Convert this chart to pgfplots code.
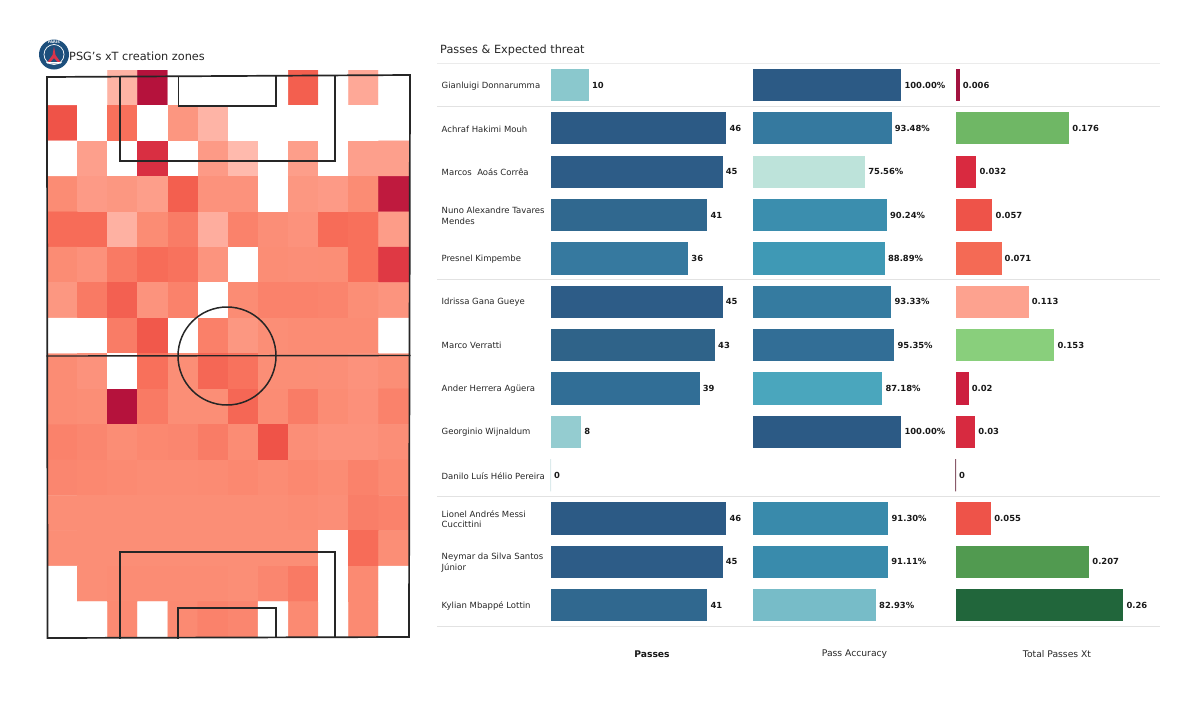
\documentclass[border=0pt]{standalone}
\usepackage{fontspec}
\setmainfont{DejaVu Sans}
\usepackage{pgfplots}
\pgfplotsset{compat=1.18}
\definecolor{inkc}{HTML}{262626}
\definecolor{sepc}{HTML}{E2E2E2}
\definecolor{logoc}{HTML}{1D4F7C}
\definecolor{towerc}{HTML}{D8344A}

% bar colours, one per row, for each column
\definecolor{p0}{HTML}{8AC8CD}\definecolor{p1}{HTML}{2C5A85}\definecolor{p2}{HTML}{2D5C87}
\definecolor{p3}{HTML}{30688F}\definecolor{p4}{HTML}{36799F}\definecolor{p5}{HTML}{2D5C87}
\definecolor{p6}{HTML}{2F6389}\definecolor{p7}{HTML}{316E96}\definecolor{p8}{HTML}{94CCD0}
\definecolor{p9}{HTML}{DCEBEC}\definecolor{p10}{HTML}{2C5A85}\definecolor{p11}{HTML}{2D5C87}
\definecolor{p12}{HTML}{30688F}
\definecolor{a0}{HTML}{2C5A85}\definecolor{a1}{HTML}{35799F}\definecolor{a2}{HTML}{BDE3DA}
\definecolor{a3}{HTML}{3B8EAE}\definecolor{a4}{HTML}{3F99B5}\definecolor{a5}{HTML}{357BA0}
\definecolor{a6}{HTML}{326E96}\definecolor{a7}{HTML}{4AA6BD}\definecolor{a8}{HTML}{2C5A85}
\definecolor{a10}{HTML}{398AAB}\definecolor{a11}{HTML}{398BAC}\definecolor{a12}{HTML}{77BCC8}
\definecolor{x0}{HTML}{A2123F}\definecolor{x1}{HTML}{6FB765}\definecolor{x2}{HTML}{D92A40}
\definecolor{x3}{HTML}{EE5349}\definecolor{x4}{HTML}{F46A55}\definecolor{x5}{HTML}{FDA28F}
\definecolor{x6}{HTML}{89CF7C}\definecolor{x7}{HTML}{CD1F3F}\definecolor{x8}{HTML}{D72A40}
\definecolor{x9}{HTML}{8A5A6A}\definecolor{x10}{HTML}{EE5349}\definecolor{x11}{HTML}{519A50}
\definecolor{x12}{HTML}{21663B}

% one bar: colour, row, value, printed label
\newcommand{\rowbar}[4]{\addplot[fill=#1,draw=none] coordinates {(#3,#2) [#4]};}
\newcommand{\rowbarz}[4]{\addplot[fill=#1,draw=#1,line width=0.7pt] coordinates {(#3,#2) [#4]};}
% one row name, in page pixels
\newcommand{\rowname}[2]{\node[anchor=west,align=left,inner sep=0pt,text=inkc,
  font=\fontsize{8.5}{10.7}\selectfont] at (axis cs:441.5,{85.7+43.35*#1}) {#2};}

\pgfplotsset{
  barcol/.style={
    scale only axis, hide axis, clip=false,
    height=563.6pt, ymin=-0.5, ymax=12.5, y dir=reverse, xmin=0,
    xbar, bar shift=0pt, bar width=32.3pt,
    point meta=explicit symbolic,
    nodes near coords,
    nodes near coords style={anchor=west, inner xsep=3pt, inner ysep=0pt,
      text=black!90, font=\fontsize{8.4}{10}\selectfont\bfseries},
    anchor=south west
  },
  pit/.style={draw=inkc, line width=1.7pt, no marks, line join=miter, line cap=rect, forget plot}
}

\begin{document}
\begin{tikzpicture}[x=1pt,y=1pt]
\path[use as bounding box] (0,0) rectangle (1200,705);

% heat map of the pitch: 12 columns, 16 rows, top row first
\begin{axis}[
  at={(47.3pt,68pt)}, anchor=south west,
  scale only axis, width=361.5pt, height=567pt, hide axis,
  xmin=-0.5, xmax=11.5, ymin=-0.5, ymax=15.5, y dir=reverse,
  point meta min=0, point meta max=100,
  colormap={xtred}{rgb255(0)=(255,255,255) rgb255(1)=(255,189,177) rgb255(20)=(253,156,136)
    rgb255(40)=(251,138,114) rgb255(55)=(247,108,88) rgb255(70)=(239,83,72)
    rgb255(85)=(217,47,66) rgb255(100)=(181,18,60)}
]
\addplot[matrix plot*, mesh/cols=12, point meta=explicit]
  table[row sep=\\, x=x, y=y, meta=v] {
x y v\\
0 0 0\\1 0 0\\2 0 7\\3 0 100\\4 0 0\\5 0 0\\6 0 0\\7 0 0\\8 0 63\\9 0 0\\10 0 13\\11 0 0\\
0 1 70\\1 1 0\\2 1 53\\3 1 0\\4 1 27\\5 1 6\\6 1 0\\7 1 0\\8 1 0\\9 1 0\\10 1 0\\11 1 0\\
0 2 0\\1 2 18\\2 2 0\\3 2 85\\4 2 0\\5 2 22\\6 2 3\\7 2 0\\8 2 19\\9 2 0\\10 2 18\\11 2 18\\
0 3 38\\1 3 22\\2 3 26\\3 3 19\\4 3 63\\5 3 31\\6 3 31\\7 3 0\\8 3 26\\9 3 22\\10 3 38\\11 3 96\\
0 4 55\\1 4 55\\2 4 8\\3 4 38\\4 4 47\\5 4 10\\6 4 44\\7 4 35\\8 4 31\\9 4 55\\10 4 53\\11 4 20\\
0 5 38\\1 5 32\\2 5 48\\3 5 55\\4 5 52\\5 5 29\\6 5 0\\7 5 37\\8 5 35\\9 5 36\\10 5 53\\11 5 81\\
0 6 26\\1 6 48\\2 6 62\\3 6 30\\4 6 44\\5 6 0\\6 6 38\\7 6 44\\8 6 44\\9 6 43\\10 6 36\\11 6 29\\
0 7 0\\1 7 0\\2 7 47\\3 7 67\\4 7 0\\5 7 45\\6 7 26\\7 7 36\\8 7 38\\9 7 38\\10 7 38\\11 7 0\\
0 8 38\\1 8 31\\2 8 0\\3 8 53\\4 8 36\\5 8 58\\6 8 52\\7 8 36\\8 8 36\\9 8 35\\10 8 31\\11 8 36\\
0 9 38\\1 9 36\\2 9 100\\3 9 48\\4 9 36\\5 9 36\\6 9 58\\7 9 38\\8 9 47\\9 9 38\\10 9 33\\11 9 44\\
0 10 44\\1 10 42\\2 10 37\\3 10 41\\4 10 42\\5 10 47\\6 10 38\\7 10 70\\8 10 35\\9 10 31\\10 10 31\\11 10 35\\
0 11 42\\1 11 41\\2 11 40\\3 11 38\\4 11 38\\5 11 39\\6 11 41\\7 11 38\\8 11 41\\9 11 38\\10 11 44\\11 11 40\\
0 12 36\\1 12 36\\2 12 36\\3 12 36\\4 12 36\\5 12 36\\6 12 36\\7 12 36\\8 12 38\\9 12 35\\10 12 46\\11 12 44\\
0 13 36\\1 13 36\\2 13 36\\3 13 36\\4 13 36\\5 13 36\\6 13 36\\7 13 36\\8 13 36\\9 13 0\\10 13 55\\11 13 36\\
0 14 0\\1 14 36\\2 14 38\\3 14 38\\4 14 38\\5 14 38\\6 14 36\\7 14 42\\8 14 48\\9 14 0\\10 14 40\\11 14 0\\
0 15 0\\1 15 0\\2 15 40\\3 15 0\\4 15 40\\5 15 44\\6 15 42\\7 15 0\\8 15 40\\9 15 0\\10 15 40\\11 15 0\\
};
\end{axis}

% passes
\begin{axis}[barcol, at={(550.7pt,78.1pt)}, width=191pt, xmax=50]
\rowbar{p0}{0}{10}{10}
\rowbar{p1}{1}{46}{46}
\rowbar{p2}{2}{45}{45}
\rowbar{p3}{3}{41}{41}
\rowbar{p4}{4}{36}{36}
\rowbar{p5}{5}{45}{45}
\rowbar{p6}{6}{43}{43}
\rowbar{p7}{7}{39}{39}
\rowbar{p8}{8}{8}{8}
\rowbarz{p9}{9}{0}{0}
\rowbar{p10}{10}{46}{46}
\rowbar{p11}{11}{45}{45}
\rowbar{p12}{12}{41}{41}
\end{axis}

% pass accuracy, no bar and no label for the player without a pass
\begin{axis}[barcol, at={(753.3pt,78.1pt)}, width=148pt, xmax=100]
\rowbar{a0}{0}{100}{100.00\%}
\rowbar{a1}{1}{93.48}{93.48\%}
\rowbar{a2}{2}{75.56}{75.56\%}
\rowbar{a3}{3}{90.24}{90.24\%}
\rowbar{a4}{4}{88.89}{88.89\%}
\rowbar{a5}{5}{93.33}{93.33\%}
\rowbar{a6}{6}{95.35}{95.35\%}
\rowbar{a7}{7}{87.18}{87.18\%}
\rowbar{a8}{8}{100}{100.00\%}
\rowbar{a10}{10}{91.30}{91.30\%}
\rowbar{a11}{11}{91.11}{91.11\%}
\rowbar{a12}{12}{82.93}{82.93\%}
\end{axis}

% total passes xT
\begin{axis}[barcol, at={(955.7pt,78.1pt)}, width=193.5pt, xmax=0.3]
\rowbar{x0}{0}{0.006}{0.006}
\rowbar{x1}{1}{0.176}{0.176}
\rowbar{x2}{2}{0.032}{0.032}
\rowbar{x3}{3}{0.057}{0.057}
\rowbar{x4}{4}{0.071}{0.071}
\rowbar{x5}{5}{0.113}{0.113}
\rowbar{x6}{6}{0.153}{0.153}
\rowbar{x7}{7}{0.02}{0.02}
\rowbar{x8}{8}{0.03}{0.03}
\rowbarz{x9}{9}{0}{0}
\rowbar{x10}{10}{0.055}{0.055}
\rowbar{x11}{11}{0.207}{0.207}
\rowbar{x12}{12}{0.26}{0.26}
\end{axis}

% page-pixel layer: pitch lines, rules, text, badge
\begin{axis}[
  at={(0pt,0pt)}, anchor=south west,
  scale only axis, width=1200pt, height=705pt, hide axis, clip=false,
  xmin=0, xmax=1200, ymin=0, ymax=705, y dir=reverse
]
% rules of the table
\addplot[sepc!70, line width=0.8pt, no marks] coordinates {(437,63.3) (1160,63.3)};
\addplot[sepc, line width=0.9pt, no marks] coordinates {(437,106) (1160,106)};
\addplot[sepc, line width=0.9pt, no marks] coordinates {(437,279) (1160,279)};
\addplot[sepc, line width=0.9pt, no marks] coordinates {(437,496) (1160,496)};
\addplot[sepc, line width=0.9pt, no marks] coordinates {(437,626.7) (1160,626.7)};

% pitch
\addplot[pit] coordinates {(47,77) (410,75) (409,637) (47.5,638) (47,77)};
\addplot[pit, line width=1.4pt] coordinates {(47,356) (410,355.5)};
\addplot[pit] coordinates {(120,638) (120,552) (335,552) (335,637)};
\addplot[pit] coordinates {(178.2,638) (178.2,608) (276.2,608) (276.2,637)};
\addplot[pit] coordinates {(120,77) (120,161) (335,161) (335,76)};
\addplot[pit] coordinates {(178.5,77) (178.5,106) (276,106) (276,76)};
\draw[inkc, line width=1.5pt] (axis cs:227,356) circle[radius=49pt];

% badge
\fill[logoc] (axis cs:54,54.5) circle[radius=15pt];
\draw[white, line width=0.7pt] (axis cs:54,54.5) circle[radius=10pt];
\fill[towerc] (axis cs:54,46.5) -- (axis cs:55.5,55) -- (axis cs:60.5,62) -- (axis cs:57.5,62)
  -- (axis cs:54,58) -- (axis cs:50.5,62) -- (axis cs:47.5,62) -- (axis cs:52.5,55) -- cycle;
\fill[white] (axis cs:46,62) -- (axis cs:62,62) -- (axis cs:60.5,63.5) -- (axis cs:47.5,63.5) -- cycle;
\node[white, inner sep=0pt, font=\fontsize{3.6}{4}\selectfont\bfseries] at (axis cs:54,42.5) {PARIS};

% text
\node[anchor=west, inner sep=0pt, text=inkc, font=\fontsize{11.3}{13}\selectfont]
  at (axis cs:69,56) {PSG{\char39}s xT creation zones};
\node[anchor=west, inner sep=0pt, text=inkc, font=\fontsize{11.3}{13}\selectfont]
  at (axis cs:440,50) {Passes \& Expected threat};

\rowname{0}{Gianluigi Donnarumma}
\rowname{1}{Achraf Hakimi Mouh}
\rowname{2}{Marcos\ \ Aoás Corrêa}
\rowname{3}{Nuno Alexandre Tavares\\Mendes}
\rowname{4}{Presnel Kimpembe}
\rowname{5}{Idrissa Gana Gueye}
\rowname{6}{Marco Verratti}
\rowname{7}{Ander Herrera Agüera}
\rowname{8}{Georginio Wijnaldum}
\rowname{9}{Danilo Luís Hélio Pereira}
\rowname{10}{Lionel Andrés Messi\\Cuccittini}
\rowname{11}{Neymar da Silva Santos\\Júnior}
\rowname{12}{Kylian Mbappé Lottin}

\node[inner sep=0pt, text=black!90, font=\fontsize{9.2}{10}\selectfont\bfseries] at (axis cs:652,654) {Passes};
\node[inner sep=0pt, text=inkc, font=\fontsize{9.2}{10}\selectfont] at (axis cs:854.5,654) {Pass Accuracy};
\node[inner sep=0pt, text=inkc, font=\fontsize{9.2}{10}\selectfont] at (axis cs:1057,654) {Total Passes Xt};
\end{axis}
\end{tikzpicture}
\end{document}
